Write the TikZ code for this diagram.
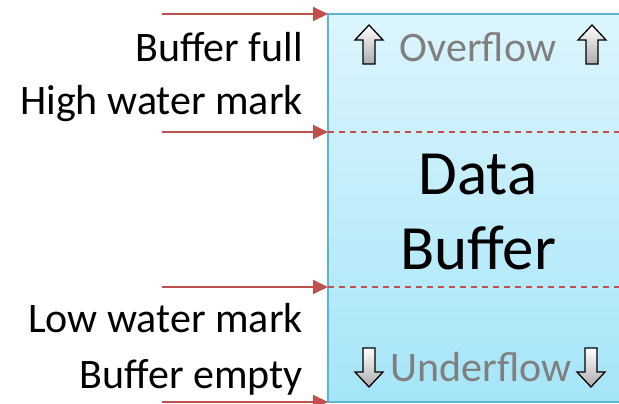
\documentclass[tikz,border=0pt]{standalone}
\usepackage{fontspec}
\setmainfont{Carlito}
\usetikzlibrary{arrows.meta}
\definecolor{arrred}{HTML}{C0504D}
\definecolor{buftop}{HTML}{DCF5FD}
\definecolor{bufbot}{HTML}{A5E5F8}
\definecolor{bufedge}{HTML}{5BB5D3}
\definecolor{flowgrey}{HTML}{7F7F7F}
\tikzset{
  lbl/.style={anchor=east,font=\fontsize{42}{44}\selectfont,inner sep=0pt},
  flowtxt/.style={font=\fontsize{42}{44}\selectfont,text=flowgrey,inner sep=0pt},
  marker/.style={draw=arrred,line width=2pt,-{Triangle[length=15pt,width=14pt]}},
  waterline/.style={draw=arrred,line width=1.5pt,dash pattern=on 6pt off 5pt},
  blockarrow/.style={draw=black,line width=1.3pt,top color=white,bottom color=gray!65,line join=miter},
}
\newcommand{\uparr}[2]{%
  \path[blockarrow] (#1-14,#2-5) -- (#1,#2-20) -- (#1+14,#2-5) -- (#1+6,#2-5) -- (#1+6,#2+19) -- (#1-6,#2+19) -- (#1-6,#2-5) -- cycle;}
\newcommand{\downarr}[2]{%
  \path[blockarrow] (#1-14,#2+5) -- (#1,#2+20) -- (#1+14,#2+5) -- (#1+6,#2+5) -- (#1+6,#2-19) -- (#1-6,#2-19) -- (#1-6,#2+5) -- cycle;}
\begin{document}
\begin{tikzpicture}[x=1pt,y=-1pt]
\useasboundingbox (0,0) rectangle (619,404);
% buffer
\path[top color=buftop,bottom color=bufbot,draw=bufedge,line width=2pt] (328,14) rectangle (640,402);
\node[coordinate] (bTop) at (328,14) {};
\node[coordinate] (bHigh) at (328,132) {};
\node[coordinate] (bLow) at (328,287) {};
\node[coordinate] (bBot) at (328,402) {};
\node[coordinate] (rHigh) at (619,132) {};
\node[coordinate] (rLow) at (619,287) {};
\draw[waterline] (bHigh) -- (rHigh);
\draw[waterline] (bLow) -- (rLow);
% arrows
\coordinate (sTop) at (162,14);
\coordinate (sHigh) at (162,132);
\coordinate (sLow) at (162,287);
\coordinate (sBot) at (162,402);
\draw[marker] (sTop) -- (bTop);
\draw[marker] (sHigh) -- (bHigh);
\draw[marker] (sLow) -- (bLow);
\draw[marker] (sBot) -- (bBot);
% labels
\node[lbl] (full) at (303,47) {Buffer full};
\node[lbl] (high) at (303,104) {High water mark};
\node[lbl] (low) at (303,318) {Low water mark};
\node[lbl] (empty) at (303,377) {Buffer empty};
% data buffer
\node[font=\fontsize{63}{75}\selectfont,align=center,inner sep=0pt] (data) at (478,212) {Data\\Buffer};
\node[flowtxt] (over) at (478,47) {Overflow};
\node[flowtxt] (under) at (481,367) {Underflow};
\uparr{369}{45}
\uparr{592}{45}
\downarr{369}{367}
\downarr{591}{367}
\end{tikzpicture}
\end{document}
